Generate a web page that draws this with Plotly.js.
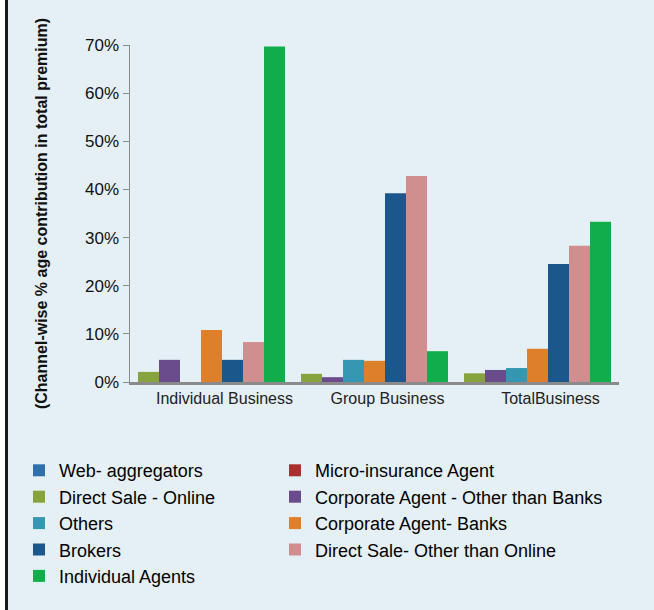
<!DOCTYPE html>
<html>
<head>
<meta charset="utf-8">
<script src="https://cdn.plot.ly/plotly-3.0.1.min.js"></script>
<style>
  html, body { margin: 0; padding: 0; background: #ffffff; }
  #wrap { position: relative; width: 654px; height: 610px; }
  #chart { position: absolute; left: 0; top: 0; width: 654px; height: 610px; }
  #edgeWhite { position: absolute; left: 0; top: 0; width: 5px; height: 610px; background: #ffffff; }
  #edgeLine { position: absolute; left: 5px; top: 0; width: 3px; height: 610px; background: #1a1a1a; }
</style>
</head>
<body>
<div id="wrap">
  <div id="chart"></div>
  <div id="edgeWhite"></div>
  <div id="edgeLine"></div>
</div>
<script>
// Categories
const categories = ["Individual Business", "Group Business", "TotalBusiness"];

// Series values (fraction of total premium)
const webAggregators      = [0.000, 0.000, 0.000];
const microInsurance      = [0.000, 0.000, 0.000];
const directSaleOnline    = [0.021, 0.017, 0.018];
const corpAgentOther      = [0.046, 0.010, 0.025];
const others              = [0.000, 0.046, 0.029];
const corpAgentBanks      = [0.108, 0.044, 0.069];
const brokers             = [0.046, 0.392, 0.245];
const directSaleOther     = [0.083, 0.428, 0.283];
const individualAgents    = [0.697, 0.064, 0.333];

// Series names (legend order)
const seriesNames = [
  "Web- aggregators", "Micro-insurance Agent",
  "Direct Sale - Online", "Corporate Agent - Other than Banks",
  "Others", "Corporate Agent- Banks",
  "Brokers", "Direct Sale- Other than Online",
  "Individual Agents"
];
const seriesValues = [
  webAggregators, microInsurance,
  directSaleOnline, corpAgentOther,
  others, corpAgentBanks,
  brokers, directSaleOther,
  individualAgents
];
const seriesColors = [
  "#2f6fae", "#a8302f",
  "#86a33d", "#6a4c8c",
  "#3597b1", "#de7f2b",
  "#1c578c", "#d08e8e",
  "#12ad4b"
];
// the two empty channels share a slot with a neighbour so the visible cluster holds 7 bars
const slotGroups = ["g1", "g2", "g1", "g2", "g3", "g4", "g5", "g6", "g7"];
// legend column for each series
const legendColumn = ["legend", "legend2", "legend", "legend2", "legend", "legend2", "legend", "legend2", "legend"];

const traces = seriesNames.map((name, i) => ({
  type: "bar",
  name: name,
  x: categories,
  y: seriesValues[i],
  offsetgroup: slotGroups[i],
  legend: legendColumn[i],
  marker: { color: seriesColors[i], line: { width: 0 } },
  hoverinfo: "name+y"
}));

const legendFont = { family: "Liberation Sans, Arial, sans-serif", size: 18, color: "#000000" };

const layout = {
  width: 654,
  height: 610,
  paper_bgcolor: "#e4f0f5",
  plot_bgcolor: "#e4f0f5",
  margin: { l: 130, r: 35, t: 45, b: 228 },
  barmode: "group",
  bargap: 0.098,
  bargroupgap: 0,
  showlegend: true,
  font: { family: "Liberation Sans, Arial, sans-serif", color: "#111111" },
  xaxis: {
    type: "category",
    showline: true,
    linecolor: "#8a8a8a",
    linewidth: 3,
    ticks: "",
    showgrid: false,
    zeroline: false,
    ticklabelshift: 13,
    tickfont: { family: "Liberation Sans, Arial, sans-serif", size: 16, color: "#222222" }
  },
  yaxis: {
    range: [0, 0.7],
    tickvals: [0, 0.1, 0.2, 0.3, 0.4, 0.5, 0.6, 0.7],
    tickformat: ".0%",
    showline: true,
    linecolor: "#8a8a8a",
    linewidth: 1.5,
    ticks: "outside",
    ticklen: 6,
    tickcolor: "#8a8a8a",
    showgrid: false,
    zeroline: false,
    tickfont: { family: "Liberation Sans, Arial, sans-serif", size: 17, color: "#111111" },
    title: {
      text: "(Channel-wise % age contribution in total premium)",
      standoff: 33,
      font: { family: "Liberation Sans, Arial, sans-serif", size: 16, color: "#111111", weight: "bold" }
    }
  },
  legend: {
    orientation: "v",
    x: -0.227,
    xanchor: "left",
    y: -0.208,
    yanchor: "top",
    bgcolor: "rgba(0,0,0,0)",
    font: legendFont,
    traceorder: "normal"
  },
  legend2: {
    orientation: "v",
    x: 0.2965,
    xanchor: "left",
    y: -0.208,
    yanchor: "top",
    bgcolor: "rgba(0,0,0,0)",
    font: legendFont,
    traceorder: "normal"
  }
};

Plotly.newPlot("chart", traces, layout, { displayModeBar: false, staticPlot: true });
</script>
</body>
</html>
